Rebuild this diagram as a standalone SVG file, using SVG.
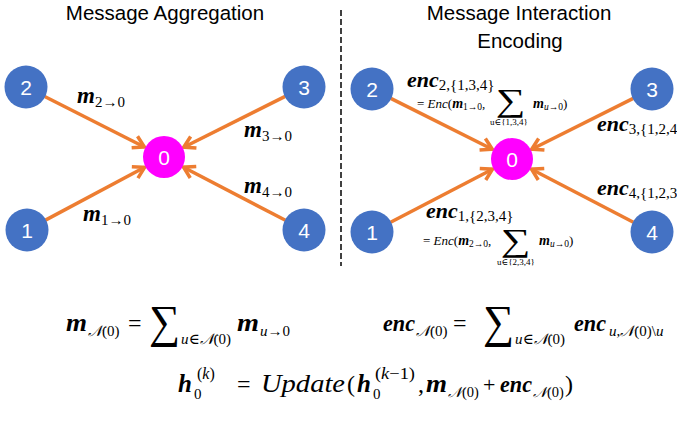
<svg xmlns="http://www.w3.org/2000/svg" width="677" height="422" viewBox="0 0 677 422">
<defs>
<marker id="ah" markerUnits="userSpaceOnUse" markerWidth="16" markerHeight="16" refX="12" refY="7" orient="auto" overflow="visible">
<path d="M1,0.5 L12,7 L1,13.5" fill="none" stroke="#ED7D31" stroke-width="3.5" stroke-linejoin="miter" stroke-linecap="butt"/>
</marker>
<style>
.title{font-family:"Liberation Sans","Noto Sans",sans-serif;font-size:20.5px;fill:#000;text-anchor:middle}
.blue{fill:#4472C4}
.mag{fill:#FF00FF}
.num{font-family:"Liberation Sans","Noto Sans",sans-serif;font-size:21px;fill:#fff;text-anchor:middle}
.edge{stroke:#ED7D31;stroke-width:3.5;fill:none;marker-end:url(#ah)}
.mb{font-family:"Liberation Serif","DejaVu Serif",serif;font-weight:bold;font-style:italic;fill:#000}
.rm{font-family:"Liberation Serif","DejaVu Serif",serif;font-weight:normal;font-style:normal;fill:#000}
.it{font-family:"Liberation Serif","DejaVu Serif",serif;font-weight:normal;font-style:italic;fill:#000}
.sum{font-family:"Liberation Serif","DejaVu Serif",serif;fill:#000}
</style>
</defs>
<rect width="677" height="422" fill="#fff"/>
<text class="title" x="165" y="20">Message Aggregation</text>
<text class="title" x="519" y="20">Message Interaction</text>
<text class="title" x="520" y="48">Encoding</text>
<line x1="341" y1="10" x2="341" y2="266" stroke="#404040" stroke-width="2" stroke-dasharray="6,3"/>

<g id="connectors">
<line class="edge" x1="44.7" y1="96.5" x2="144.4" y2="147"/>
<line class="edge" x1="285.2" y1="96.4" x2="183.7" y2="147.2"/>
<line class="edge" x1="45.5" y1="220.1" x2="144.6" y2="167.3"/>
<line class="edge" x1="285.4" y1="220.3" x2="183.5" y2="167.2"/>
<line class="edge" x1="390.8" y1="98.4" x2="492.3" y2="149.2"/>
<line class="edge" x1="633.2" y1="98.4" x2="531.7" y2="149.2"/>
<line class="edge" x1="390.6" y1="222.3" x2="492.5" y2="169.2"/>
<line class="edge" x1="633.4" y1="222.3" x2="531.5" y2="169.2"/>
</g>

<g id="L0"><circle class="mag" cx="164" cy="157" r="21"/><text class="num" x="164" y="164.5">0</text></g>
<g id="L1"><circle class="blue" cx="27" cy="230" r="21.5"/><text class="num" x="27" y="237.5">1</text></g>
<g id="L2"><circle class="blue" cx="26" cy="87" r="21.5"/><text class="num" x="26" y="94.5">2</text></g>
<g id="L3"><circle class="blue" cx="304" cy="87" r="21.5"/><text class="num" x="304" y="94.5">3</text></g>
<g id="L4"><circle class="blue" cx="304" cy="230" r="21.5"/><text class="num" x="304" y="237.5">4</text></g>

<g id="R0"><circle class="mag" cx="512" cy="159" r="21"/><text class="num" x="512" y="166.5">0</text></g>
<g id="R1"><circle class="blue" cx="372" cy="232" r="21.5"/><text class="num" x="372" y="239.5">1</text></g>
<g id="R2"><circle class="blue" cx="372" cy="89" r="21.5"/><text class="num" x="372" y="96.5">2</text></g>
<g id="R3"><circle class="blue" cx="652" cy="89" r="21.5"/><text class="num" x="652" y="96.5">3</text></g>
<g id="R4"><circle class="blue" cx="652" cy="232" r="21.5"/><text class="num" x="652" y="239.5">4</text></g>

<g id="labels-left">
<text class="mb" x="77" y="103" font-size="23">m<tspan class="rm" font-size="15" dy="4">2→0</tspan></text>
<text class="mb" x="244" y="137" font-size="23">m<tspan class="rm" font-size="15" dy="4">3→0</tspan></text>
<text class="mb" x="244" y="193" font-size="23">m<tspan class="rm" font-size="15" dy="4">4→0</tspan></text>
<text class="mb" x="83" y="221" font-size="23">m<tspan class="rm" font-size="15" dy="4">1→0</tspan></text>
</g>

<g id="labels-right">
<text class="mb" x="407" y="87" font-size="22">enc<tspan class="rm" font-size="15" dy="3">2,{1,3,4}</tspan></text>
<text class="rm" x="417" y="108" font-size="13">= <tspan class="it">Enc</tspan>(<tspan class="mb" font-size="14">m</tspan><tspan font-size="9.5" dy="2">1→0</tspan><tspan dy="-2">,</tspan></text>
<text class="sum" x="0" y="0" font-size="32" transform="translate(496,111) scale(1.3,1)">∑</text>
<text class="rm" x="490" y="125" font-size="9">u∈{1,3,4}</text>
<text class="mb" x="533" y="108" font-size="14">m<tspan class="it" font-size="9.5" dy="2">u</tspan><tspan class="rm" font-size="9.5">→0</tspan><tspan class="rm" font-size="13" dy="-2">)</tspan></text>

<text class="mb" x="597" y="131" font-size="22">enc<tspan class="rm" font-size="15" dy="3">3,{1,2,4}</tspan></text>
<text class="mb" x="597" y="195" font-size="22">enc<tspan class="rm" font-size="15" dy="3">4,{1,2,3}</tspan></text>

<text class="mb" x="426" y="218" font-size="22">enc<tspan class="rm" font-size="15" dy="3">1,{2,3,4}</tspan></text>
<text class="rm" x="423" y="245" font-size="13">= <tspan class="it">Enc</tspan>(<tspan class="mb" font-size="14">m</tspan><tspan font-size="9.5" dy="2">2→0</tspan><tspan dy="-2">,</tspan></text>
<text class="sum" x="0" y="0" font-size="32" transform="translate(501,251) scale(1.3,1)">∑</text>
<text class="rm" x="497" y="265" font-size="9">u∈{2,3,4}</text>
<text class="mb" x="539" y="245" font-size="14">m<tspan class="it" font-size="9.5" dy="2">u</tspan><tspan class="rm" font-size="9.5">→0</tspan><tspan class="rm" font-size="13" dy="-2">)</tspan></text>
</g>

<g id="formulas">
<text class="mb" x="66" y="331" font-size="25" textLength="21" lengthAdjust="spacingAndGlyphs">m</text>
<text class="it" x="88" y="336" font-size="15">𝒩<tspan class="rm">(0)</tspan></text>
<text class="rm" x="128" y="331" font-size="24">=</text>
<text class="sum" x="0" y="0" font-size="46" transform="translate(149,337) scale(0.95,1)">∑</text>
<text class="it" x="181" y="344" font-size="15">u<tspan class="rm">∈</tspan>𝒩<tspan class="rm">(0)</tspan></text>
<text class="mb" x="237" y="331" font-size="25" textLength="22" lengthAdjust="spacingAndGlyphs">m</text>
<text class="it" x="260" y="336" font-size="15">u<tspan class="rm">→0</tspan></text>

<text class="mb" x="383" y="331" font-size="24" textLength="32" lengthAdjust="spacingAndGlyphs">enc</text>
<text class="it" x="416" y="336" font-size="15">𝒩<tspan class="rm">(0)</tspan></text>
<text class="rm" x="453" y="331" font-size="24">=</text>
<text class="sum" x="0" y="0" font-size="46" transform="translate(483,337) scale(0.95,1)">∑</text>
<text class="it" x="515" y="344" font-size="15">u<tspan class="rm">∈</tspan>𝒩<tspan class="rm">(0)</tspan></text>
<text class="mb" x="574" y="331" font-size="24" textLength="32" lengthAdjust="spacingAndGlyphs">enc</text>
<text class="it" x="609" y="336" font-size="15">u<tspan class="rm">,</tspan>𝒩<tspan class="rm">(0)\</tspan>u</text>

<text class="mb" x="178" y="392" font-size="25">h</text>
<text class="rm" x="194" y="399" font-size="15">0</text>
<text class="rm" x="197" y="379" font-size="16">(<tspan class="it">k</tspan>)</text>
<text class="rm" x="237" y="392" font-size="24">=</text>
<text class="it" x="261" y="392" font-size="25" textLength="84" lengthAdjust="spacingAndGlyphs">Update</text>
<text class="rm" x="347" y="392" font-size="24">(</text>
<text class="mb" x="357" y="392" font-size="25">h</text>
<text class="rm" x="373" y="399" font-size="15">0</text>
<text class="rm" x="375" y="379" font-size="16" textLength="40" lengthAdjust="spacingAndGlyphs">(<tspan class="it">k</tspan>−1)</text>
<text class="rm" x="418" y="392" font-size="24">,</text>
<text class="mb" x="426" y="392" font-size="25" textLength="21" lengthAdjust="spacingAndGlyphs">m</text>
<text class="it" x="448" y="397" font-size="14.5">𝒩<tspan class="rm">(0)</tspan></text>
<text class="rm" x="483" y="392" font-size="22">+</text>
<text class="mb" x="500" y="392" font-size="24" textLength="32" lengthAdjust="spacingAndGlyphs">enc</text>
<text class="it" x="533" y="397" font-size="14.5">𝒩<tspan class="rm">(0)</tspan></text>
<text class="rm" x="565" y="392" font-size="24">)</text>
</g>
</svg>
